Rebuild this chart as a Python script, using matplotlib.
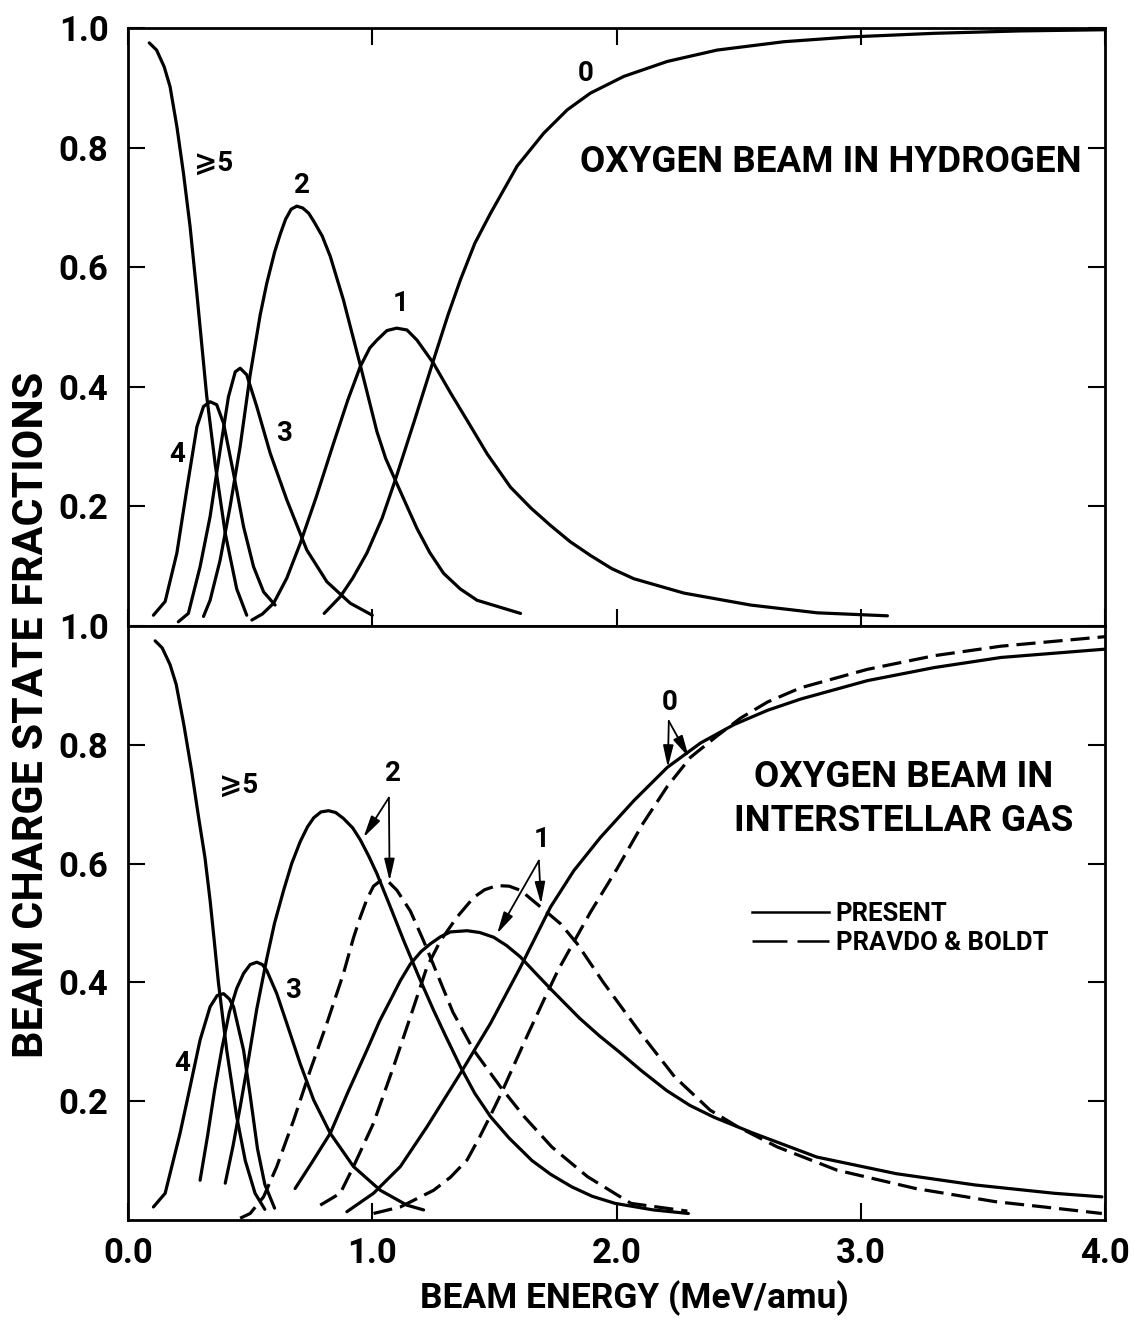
import matplotlib
matplotlib.use('Agg')
import matplotlib.pyplot as plt
from matplotlib.lines import Line2D

# bold grotesque lettering, DejaVu as backup for the odd symbol
plt.rcParams['font.family'] = ['Roboto', 'DejaVu Sans']
plt.rcParams['font.weight'] = 'bold'

#oxygen beam in hydrogen (charge state fractions vs energy, MeV/amu)
h_ge5_x = [0.087, 0.117, 0.148, 0.172, 0.200, 0.227, 0.254, 0.282, 0.302, 0.322, 0.357, 0.398, 0.445, 0.486]
h_ge5_y = [0.975, 0.963, 0.935, 0.902, 0.835, 0.757, 0.668, 0.555, 0.470, 0.385, 0.270, 0.155, 0.062, 0.018]

h_4_x = [0.104, 0.152, 0.200, 0.240, 0.282, 0.309, 0.336, 0.363, 0.391, 0.432, 0.473, 0.514, 0.555, 0.602]
h_4_y = [0.018, 0.041, 0.122, 0.227, 0.333, 0.367, 0.375, 0.370, 0.339, 0.255, 0.166, 0.099, 0.057, 0.035]

h_3_x = [0.206, 0.247, 0.295, 0.336, 0.377, 0.411, 0.439, 0.459, 0.486, 0.527, 0.582, 0.650, 0.732, 0.814, 0.910, 1.000]
h_3_y = [0.007, 0.021, 0.099, 0.183, 0.294, 0.383, 0.425, 0.431, 0.420, 0.367, 0.289, 0.211, 0.127, 0.074, 0.038, 0.018]

h_2_x = [0.309, 0.336, 0.377, 0.418, 0.459, 0.500, 0.541, 0.568, 0.600, 0.623, 0.645, 0.668, 0.691, 0.715,
         0.740, 0.760, 0.795, 0.828, 0.882, 0.951, 1.019, 1.055, 1.094, 1.183, 1.235, 1.292, 1.360, 1.429, 1.607]
h_2_y = [0.016, 0.043, 0.110, 0.200, 0.300, 0.420, 0.520, 0.573, 0.625, 0.655, 0.680, 0.697, 0.702, 0.699,
         0.690, 0.677, 0.652, 0.618, 0.545, 0.436, 0.325, 0.280, 0.244, 0.163, 0.123, 0.088, 0.062, 0.043, 0.021]

h_1_x = [0.507, 0.550, 0.596, 0.650, 0.705, 0.770, 0.841, 0.900, 0.951, 0.990, 1.019, 1.060, 1.100, 1.142,
         1.183, 1.251, 1.320, 1.388, 1.470, 1.566, 1.650, 1.730, 1.810, 1.893, 1.980, 2.071, 2.276, 2.549,
         2.822, 3.109]
h_1_y = [0.010, 0.020, 0.038, 0.080, 0.138, 0.215, 0.305, 0.378, 0.434, 0.465, 0.478, 0.494, 0.498, 0.495,
         0.478, 0.439, 0.390, 0.344, 0.288, 0.232, 0.197, 0.168, 0.141, 0.118, 0.096, 0.079, 0.055, 0.035,
         0.022, 0.017]

h_0_x = [0.803, 0.869, 0.920, 0.978, 1.040, 1.094, 1.170, 1.251, 1.310, 1.361, 1.420, 1.484, 1.593, 1.702,
         1.798, 1.893, 2.030, 2.208, 2.412, 2.686, 2.959, 3.300, 3.650, 4.000]
h_0_y = [0.021, 0.049, 0.080, 0.122, 0.180, 0.244, 0.340, 0.445, 0.520, 0.579, 0.640, 0.690, 0.769, 0.824,
         0.863, 0.891, 0.919, 0.944, 0.963, 0.977, 0.985, 0.991, 0.995, 0.997]

#oxygen beam in interstellar gas, present calculation
g_ge5_x = [0.111, 0.140, 0.172, 0.197, 0.228, 0.260, 0.290, 0.315, 0.336, 0.353, 0.370, 0.404, 0.445, 0.480, 0.520, 0.560]
g_ge5_y = [0.975, 0.963, 0.935, 0.902, 0.835, 0.757, 0.675, 0.610, 0.538, 0.470, 0.400, 0.286, 0.174, 0.100, 0.045, 0.018]

g_4_x = [0.104, 0.152, 0.213, 0.254, 0.295, 0.336, 0.365, 0.391, 0.415, 0.432, 0.473, 0.500, 0.530, 0.560, 0.600]
g_4_y = [0.022, 0.045, 0.146, 0.224, 0.303, 0.359, 0.378, 0.381, 0.372, 0.359, 0.286, 0.210, 0.120, 0.060, 0.020]

g_3_x = [0.295, 0.325, 0.355, 0.385, 0.415, 0.445, 0.473, 0.500, 0.527, 0.550, 0.568, 0.609, 0.650, 0.705,
         0.760, 0.828, 0.923, 1.033, 1.142, 1.210]
g_3_y = [0.067, 0.140, 0.220, 0.290, 0.350, 0.390, 0.415, 0.430, 0.434, 0.430, 0.420, 0.381, 0.331, 0.263,
         0.202, 0.146, 0.090, 0.050, 0.025, 0.017]

g_2_x = [0.398, 0.430, 0.459, 0.493, 0.527, 0.568, 0.600, 0.637, 0.670, 0.705, 0.735, 0.760, 0.790, 0.821,
         0.850, 0.882, 0.920, 0.951, 0.985, 1.019, 1.074, 1.128, 1.190, 1.251, 1.300, 1.361, 1.420, 1.484,
         1.560, 1.654, 1.730, 1.816, 1.900, 1.994, 2.150, 2.294]
g_2_y = [0.062, 0.125, 0.190, 0.270, 0.355, 0.440, 0.500, 0.555, 0.600, 0.637, 0.662, 0.677, 0.687, 0.689,
         0.686, 0.676, 0.660, 0.640, 0.613, 0.583, 0.527, 0.471, 0.410, 0.353, 0.310, 0.258, 0.213, 0.174,
         0.138, 0.100, 0.077, 0.056, 0.040, 0.028, 0.017, 0.011]

g_1_x = [0.684, 0.750, 0.828, 0.900, 0.978, 1.030, 1.074, 1.115, 1.156, 1.200, 1.238, 1.280, 1.320, 1.388,
         1.440, 1.497, 1.550, 1.606, 1.670, 1.735, 1.848, 1.930, 2.011, 2.100, 2.205, 2.300, 2.399, 2.561,
         2.820, 3.145, 3.468, 3.792, 3.987]
g_1_y = [0.053, 0.095, 0.146, 0.215, 0.286, 0.335, 0.370, 0.403, 0.431, 0.452, 0.465, 0.477, 0.485, 0.487,
         0.484, 0.476, 0.462, 0.443, 0.415, 0.387, 0.340, 0.310, 0.283, 0.252, 0.218, 0.193, 0.173, 0.146,
         0.106, 0.078, 0.059, 0.045, 0.039]

g_0_x = [0.896, 1.005, 1.115, 1.224, 1.361, 1.484, 1.607, 1.702, 1.730, 1.825, 1.934, 2.071, 2.208, 2.344,
         2.481, 2.618, 2.754, 3.027, 3.301, 3.574, 4.000]
g_0_y = [0.014, 0.045, 0.090, 0.157, 0.247, 0.331, 0.426, 0.504, 0.527, 0.588, 0.644, 0.706, 0.762, 0.803,
         0.834, 0.858, 0.877, 0.908, 0.930, 0.947, 0.961]

#interstellar gas, Pravdo & Boldt
pb_2_x = [0.459, 0.500, 0.555, 0.609, 0.678, 0.746, 0.814, 0.882, 0.923, 0.951, 0.978, 1.005, 1.033, 1.065,
          1.101, 1.156, 1.210, 1.260, 1.330, 1.415, 1.525, 1.622, 1.735, 1.881, 2.059, 2.290]
pb_2_y = [0.003, 0.011, 0.039, 0.090, 0.168, 0.252, 0.331, 0.415, 0.475, 0.510, 0.540, 0.562, 0.571, 0.570,
          0.555, 0.520, 0.470, 0.420, 0.350, 0.286, 0.224, 0.174, 0.123, 0.073, 0.028, 0.015]

pb_1_x = [0.787, 0.869, 0.923, 1.005, 1.087, 1.156, 1.224, 1.279, 1.347, 1.415, 1.460, 1.511, 1.560, 1.607,
          1.689, 1.770, 1.839, 1.946, 2.092, 2.238, 2.383, 2.496, 2.658, 2.902, 3.225, 3.549, 3.793, 3.987]
pb_1_y = [0.025, 0.045, 0.090, 0.163, 0.258, 0.342, 0.426, 0.470, 0.510, 0.543, 0.556, 0.563, 0.562, 0.555,
          0.527, 0.499, 0.465, 0.400, 0.318, 0.241, 0.185, 0.157, 0.123, 0.084, 0.053, 0.031, 0.020, 0.011]

pb_0_x = [1.005, 1.115, 1.251, 1.320, 1.388, 1.440, 1.484, 1.530, 1.566, 1.634, 1.702, 1.760, 1.825, 1.893,
          2.003, 2.109, 2.208, 2.303, 2.412, 2.508, 2.618, 2.754, 3.027, 3.301, 3.574, 4.000]
pb_0_y = [0.011, 0.022, 0.050, 0.072, 0.101, 0.140, 0.176, 0.215, 0.248, 0.310, 0.370, 0.420, 0.468, 0.518,
          0.592, 0.668, 0.730, 0.779, 0.815, 0.845, 0.872, 0.896, 0.927, 0.950, 0.966, 0.982]

yticks = [0.2, 0.4, 0.6, 0.8, 1.0]
ytick_labels = ['0.2', '0.4', '0.6', '0.8', '1.0']
xticks = [0.0, 1.0, 2.0, 3.0, 4.0]
xtick_labels = ['0.0', '1.0', '2.0', '3.0', '4.0']

LW = 2.3
DASH = (6, 2.5)

fig = plt.figure(figsize=(11.35, 13.37), dpi=100)
ax1 = fig.add_axes([0.1128, 0.5318, 0.8608, 0.4473])
ax2 = fig.add_axes([0.1128, 0.0875, 0.8608, 0.4443])

for ax in (ax1, ax2):
    ax.set_xlim(0, 4)
    ax.set_ylim(0, 1)
    ax.set_xticks(xticks)
    ax.set_yticks(yticks)
    ax.set_yticklabels(ytick_labels)
    ax.tick_params(direction='in', length=12, width=1.5, right=True, labelsize=25, pad=14)
    for s in ax.spines.values():
        s.set_linewidth(2.0)
ax1.tick_params(axis='x', top=True, labelbottom=False)
ax2.tick_params(axis='x', top=False, pad=12)
ax2.set_xticklabels(xtick_labels)

#top panel
for xs, ys in [(h_ge5_x, h_ge5_y), (h_4_x, h_4_y), (h_3_x, h_3_y),
               (h_2_x, h_2_y), (h_1_x, h_1_y), (h_0_x, h_0_y)]:
    ax1.plot(xs, ys, color='black', lw=LW, solid_capstyle='round', solid_joinstyle='round')

lab = dict(fontsize=20, ha='center', va='center')
ax1.text(0.352, 0.774, '⩾5', **lab)
ax1.text(0.200, 0.286, '4', **lab)
ax1.text(0.637, 0.322, '3', **lab)
ax1.text(0.713, 0.737, '2', **lab)
ax1.text(1.115, 0.540, '1', **lab)
ax1.text(1.873, 0.924, '0', **lab)
ax1.text(2.877, 0.776, 'OXYGEN BEAM IN HYDROGEN', fontsize=26.5, ha='center', va='center')

#bottom panel
for xs, ys in [(g_ge5_x, g_ge5_y), (g_4_x, g_4_y), (g_3_x, g_3_y),
               (g_2_x, g_2_y), (g_1_x, g_1_y), (g_0_x, g_0_y)]:
    ax2.plot(xs, ys, color='black', lw=LW, solid_capstyle='round', solid_joinstyle='round')
for xs, ys in [(pb_2_x, pb_2_y), (pb_1_x, pb_1_y), (pb_0_x, pb_0_y)]:
    ax2.plot(xs, ys, color='black', lw=LW, dashes=DASH)

ax2.text(0.451, 0.731, '⩾5', **lab)
ax2.text(0.220, 0.263, '4', **lab)
ax2.text(0.676, 0.387, '3', **lab)
ax2.text(1.085, 0.751, '2', **lab)
ax2.text(1.695, 0.641, '1', **lab)
ax2.text(2.219, 0.871, '0', **lab)
ax2.text(3.176, 0.746, 'OXYGEN BEAM IN', fontsize=26.5, ha='center', va='center')
ax2.text(3.176, 0.672, 'INTERSTELLAR GAS', fontsize=26.5, ha='center', va='center')

# pointer arrows from each label to its pair of curves
arrows = [((1.068, 0.711), (0.964, 0.644)), ((1.068, 0.711), (1.071, 0.571)),
          ((1.682, 0.605), (1.511, 0.482)), ((1.682, 0.605), (1.691, 0.532)),
          ((2.214, 0.840), (2.210, 0.762)), ((2.214, 0.840), (2.296, 0.779))]
for start, tip in arrows:
    ax2.annotate('', xy=tip, xytext=start,
                 arrowprops=dict(arrowstyle='-|>,head_length=1.1,head_width=0.26',
                                 mutation_scale=12, color='black', lw=1.3,
                                 shrinkA=0, shrinkB=0))

handles = [Line2D([], [], color='black', lw=1.8),
           Line2D([], [], color='black', lw=1.8, dashes=(14, 4))]
ax2.legend(handles, ['PRESENT', 'PRAVDO & BOLDT'], loc='upper left',
           bbox_to_anchor=(0.639, 0.535), frameon=False, fontsize=18.5,
           handlelength=3.0, handletextpad=0.25, labelspacing=0.2,
           borderpad=0, borderaxespad=0)

fig.text(0.028, 0.465, 'BEAM CHARGE STATE FRACTIONS', rotation=90,
         fontsize=31, ha='center', va='center')
fig.text(0.5586, 0.029, 'BEAM ENERGY (MeV/amu)', fontsize=25.5, ha='center', va='center')

fig.savefig('out.png', dpi=100)
